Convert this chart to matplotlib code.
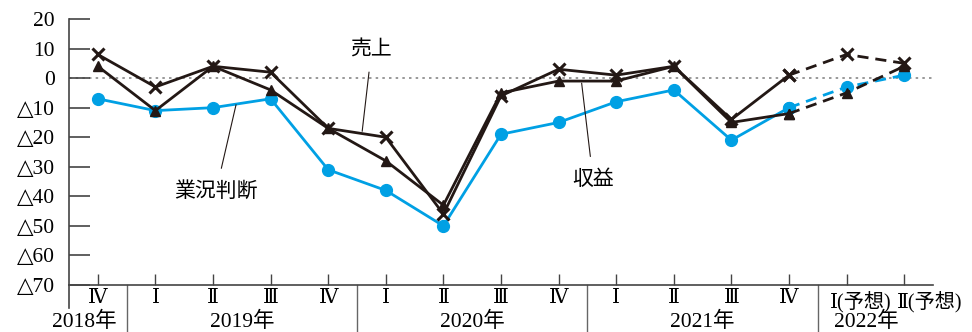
import matplotlib
matplotlib.use("Agg")
import matplotlib.pyplot as plt
import matplotlib.transforms as mtransforms

plt.rcParams['font.family'] = ['Liberation Serif', 'DejaVu Serif', 'Noto Sans CJK JP']

quarters = ["Ⅳ", "Ⅰ", "Ⅱ", "Ⅲ", "Ⅳ", "Ⅰ", "Ⅱ", "Ⅲ", "Ⅳ", "Ⅰ", "Ⅱ", "Ⅲ", "Ⅳ", "Ⅰ(予想)", "Ⅱ(予想)"]
years = ["2018年", "2019年", "2020年", "2021年", "2022年"]
year_centers = [-0.23, 2.5, 6.5, 10.5, 13.35]
year_breaks = [0.5, 4.5, 8.5, 12.5]

gyokyo = [-7, -11, -10, -7, -31, -38, -50, -19, -15, -8, -4, -21, -10, -3, 1]
uriage = [8, -3, 4, 2, -17, -20, -46, -6, 3, 1, 4, -14, 1, 8, 5]
shueki = [4, -11, 4, -4, -17, -28, -43, -5, -1, -1, 4, -15, -12, -5, 4]
forecast_start = 12

yticks = [20, 10, 0, -10, -20, -30, -40, -50, -60, -70]
ytick_labels = ["20", "10", "0", "△10", "△20", "△30", "△40", "△50", "△60", "△70"]

BLUE = "#00A0E4"
BLACK = "#231815"

fig = plt.figure(figsize=(9.72, 3.32), dpi=100)
ax = fig.add_axes([69/972, 47/332, (933-69)/972, (285-19)/332])

x = list(range(len(quarters)))
n = forecast_start + 1

ax.axhline(0, color="#888888", lw=1.2, ls=(0, (1.5, 2.5)), zorder=1)

def draw(vals, color, marker, ms, mew=None, z=3):
    ax.plot(x[:n], vals[:n], color=color, lw=2.0, marker=marker, ms=ms,
            mew=mew, zorder=z)
    ax.plot(x[forecast_start:], vals[forecast_start:], color=color, lw=2.0,
            ls=(0, (4, 2.5)), marker=marker, ms=ms, mew=mew, zorder=z)

draw(gyokyo, BLUE, "o", 8.5, z=2)
draw(shueki, BLACK, "^", 7, z=3)
draw(uriage, BLACK, "x", 8, mew=2.2, z=4)

ax.set_xlim(-0.5, 14.5)
ax.set_ylim(-70, 20)
ax.set_yticks(yticks)
ax.set_yticklabels(ytick_labels, fontsize=15.5)
ax.set_xticks(x)
ax.set_xticklabels([q if "(" not in q else "" for q in quarters], fontsize=14.5)
ax.tick_params(axis="y", direction="in", length=15, width=1.2, color="#444444", pad=10)
ax.tick_params(axis="x", direction="in", length=8, width=1.0, color="#444444", pad=3)
for s in ["top", "right"]:
    ax.spines[s].set_visible(False)
for s in ["left", "bottom"]:
    ax.spines[s].set_color("#444444")
    ax.spines[s].set_linewidth(1.2)

trans = mtransforms.blended_transform_factory(ax.transData, ax.transAxes)
# forecast quarter labels, shifted right like the reference
offsets = {13: -12, 14: -5}
for i, q in enumerate(quarters):
    if "(" in q:
        ax.annotate(q, xy=(x[i], 0), xycoords=trans, xytext=(offsets[i], -12),
                    textcoords="offset points", ha="left", va="center",
                    fontsize=14.5, annotation_clip=False)

ax.plot([-0.5, -0.5], [0, -23/266], transform=trans, color="#444444", lw=1.2, clip_on=False)
for b in year_breaks:
    ax.plot([b, b], [0, -47/266], transform=trans, color="#666666", lw=1.0, clip_on=False)
for c, yl in zip(year_centers, years):
    ax.text(c, -37/266, yl, transform=trans, ha="center", va="center", fontsize=15.5)

# Leader labels
ax.annotate("売上", xy=(4.59, -18), xytext=(4.75, 9), ha="center", va="center",
            fontsize=15, arrowprops=dict(arrowstyle="-", color=BLACK, lw=0.8, shrinkA=6, shrinkB=0))
ax.annotate("収益", xy=(8.4, -1.7), xytext=(8.6, -34.5), ha="center", va="center",
            fontsize=15, arrowprops=dict(arrowstyle="-", color=BLACK, lw=0.8, shrinkA=8, shrinkB=0))
ax.annotate("業況判断", xy=(2.4, -9), xytext=(2.05, -38.5), ha="center", va="center",
            fontsize=15, arrowprops=dict(arrowstyle="-", color=BLACK, lw=0.8, shrinkA=8, shrinkB=0))

fig.savefig("out.png", dpi=100)
